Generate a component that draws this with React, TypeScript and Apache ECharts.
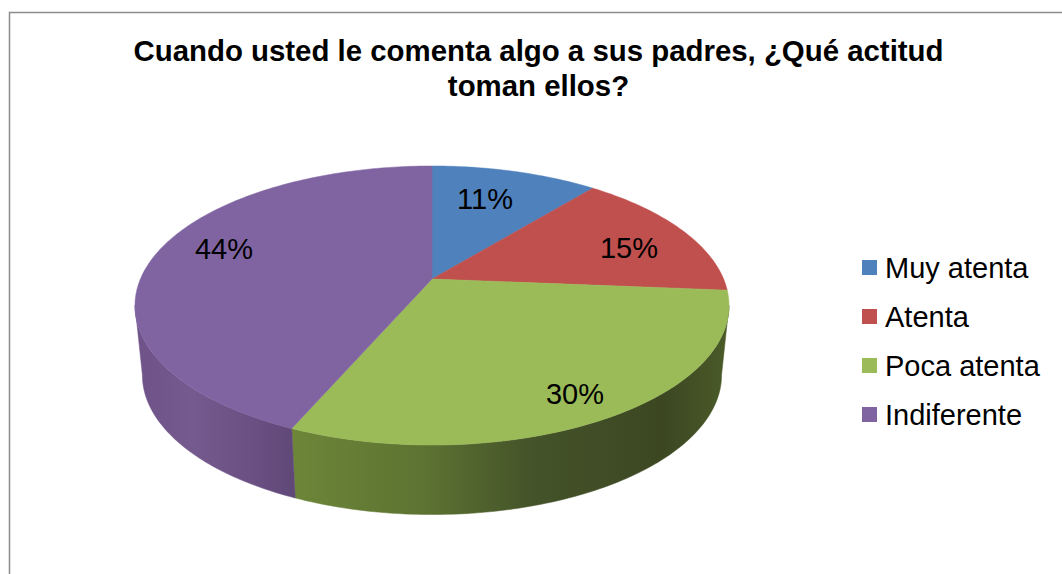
import React, { useEffect, useRef } from "react";
import * as echarts from "echarts";

const categories = ["Muy atenta", "Atenta", "Poca atenta", "Indiferente"];
const values = [10.9, 15.4, 30.2, 43.5];
const colors = ["#4f81bd", "#c0504d", "#9bbb59", "#8064a2"];
const titleText = "Cuando usted le comenta algo a sus padres, ¿Qué actitud\ntoman ellos?";

const FONT = "'Liberation Sans', Arial, sans-serif";
const apex = { x: 432, y: 279 };
const persp = { a: 291.6, b: 134.5, k: 0.19 };
const rimCentre = { x: 431, y: 305.5 };
const baseCentre = { x: 431, y: 375 };
const baseScale = { x: 0.975, y: 1.0 };
const labelAnchors = [
  [485, 199],
  [629, 248],
  [575, 394],
  [224, 249],
];
const wallStops: Record<number, [number, string][]> = {
  2: [[0, "#6d8638"], [0.3, "#5d7332"], [0.55, "#445329"], [0.85, "#3c4722"], [1, "#4b5b28"]],
  3: [[0, "#6e5288"], [0.35, "#745a8e"], [0.75, "#6a4f82"], [1, "#5f4878"]],
};

const total = values.reduce((s, v) => s + v, 0);
const deg = Math.PI / 180;
const rim = (t: number) => {
  const u = Math.sin(t);
  const v = -Math.cos(t);
  const d = 1 - persp.k * v;
  return [apex.x + (persp.a * u) / d, apex.y + (persp.b * v) / d];
};
const base = (t: number) => {
  const [x, y] = rim(t);
  return [baseCentre.x + (x - rimCentre.x) * baseScale.x, baseCentre.y + (y - rimCentre.y) * baseScale.y];
};
const arc = (f: (t: number) => number[], from: number, to: number) => {
  const n = Math.max(2, Math.ceil(Math.abs(to - from) / deg));
  const pts: number[][] = [];
  for (let i = 0; i <= n; i++) pts.push(f(from + ((to - from) * i) / n));
  return pts;
};
const visFrom = Math.acos(-persp.k);
const visTo = 2 * Math.PI - visFrom;

const renderSlice = (index: number) => (_p: any, api: any) => {
  const value = api.value(0);
  const before = values.slice(0, index).reduce((s, v) => s + v, 0);
  const t0 = (before / total) * 2 * Math.PI;
  const t1 = ((before + value) / total) * 2 * Math.PI;
  const children: any[] = [];
  const a = Math.max(t0, visFrom);
  const b = Math.min(t1, visTo);
  if (b > a) {
    const stops = wallStops[index] || [[0, colors[index]], [1, colors[index]]];
    const fill = new echarts.graphic.LinearGradient(
      0, 0, 1, 0,
      stops.map(([offset, color]) => ({ offset, color }))
    );
    children.push({
      type: "polygon",
      shape: { points: [...arc(rim, a, b), ...arc(base, b, a)] },
      style: { fill, stroke: fill, lineWidth: 0.5 },
    });
  }
  children.push({
    type: "polygon",
    shape: { points: [[apex.x, apex.y], ...arc(rim, t0, t1)] },
    style: { fill: colors[index], stroke: colors[index], lineWidth: 0.5 },
  });
  children.push({
    type: "text",
    z2: 100,
    style: {
      x: labelAnchors[index][0],
      y: labelAnchors[index][1],
      text: `${Math.round(value)}%`,
      fill: "#000",
      font: `29px ${FONT}`,
      align: "center",
      verticalAlign: "middle",
    },
  });
  return { type: "group", children };
};

export default function App() {
  const ref = useRef<HTMLDivElement>(null);
  useEffect(() => {
    const chart = echarts.init(ref.current!, null, { renderer: "svg" });
    chart.setOption({
      animation: false,
      backgroundColor: "#ffffff",
      title: {
        text: titleText,
        left: 533.5,
        top: 28,
        textAlign: "center",
        textStyle: { fontFamily: FONT, fontSize: 29.4, fontWeight: "bold", color: "#000", lineHeight: 35 },
      },
      legend: {
        orient: "vertical",
        left: 857,
        top: 248,
        icon: "rect",
        itemWidth: 15,
        itemHeight: 15,
        itemGap: 20,
        data: categories,
        textStyle: { fontFamily: FONT, fontSize: 29, color: "#000", padding: [0, 0, 0, 3] },
        selectedMode: false,
      },
      graphic: [
        {
          type: "polyline",
          shape: { points: [[9.5, 574], [9.5, 12.5], [1062, 12.5]] },
          style: { stroke: "#8c8c8c", lineWidth: 1.5, fill: "none" },
        },
      ],
      series: categories.map((name, i) => ({
        type: "custom",
        name,
        coordinateSystem: "none",
        itemStyle: { color: colors[i] },
        data: [[values[i]]],
        renderItem: renderSlice(i),
      })),
    });
    return () => chart.dispose();
  }, []);
  return <div ref={ref} style={{ position: "fixed", left: 0, top: 0, width: 1062, height: 574 }} />;
}
